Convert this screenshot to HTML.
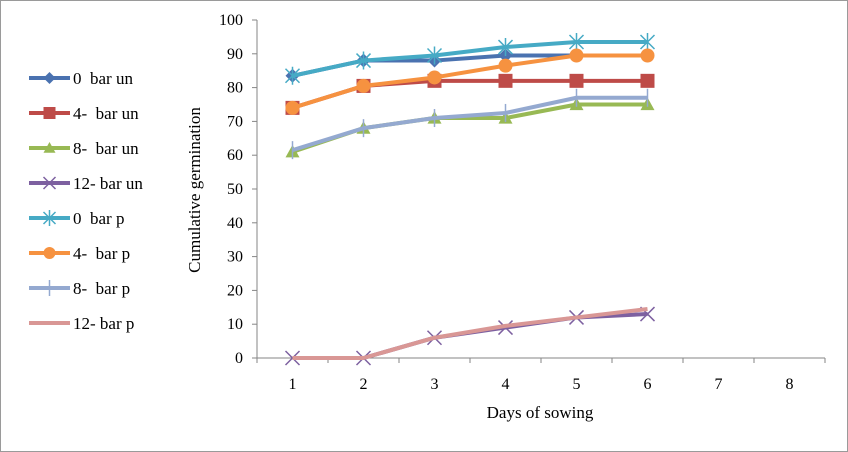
<!DOCTYPE html>
<html><head><meta charset="utf-8"><style>
html,body{margin:0;padding:0;background:#fff}
svg{display:block;font-family:"Liberation Serif",serif}
</style></head><body>
<svg id="chart" width="848" height="452">
<rect x="0.5" y="0.5" width="847" height="451" fill="#fff" stroke="#9a9a9a"/>
<g id="axes"></g><g id="series"></g><g id="legend"></g>
<text x="540" y="418" font-size="17" text-anchor="middle">Days of sowing</text>
<text transform="translate(200,190) rotate(-90)" font-size="17" text-anchor="middle">Cumulative  germination</text>
</svg>
<script>
const categories=[1,2,3,4,5,6,7,8];
const yTicks=[0,10,20,30,40,50,60,70,80,90,100];
const seriesNames=["0  bar un","4-  bar un","8-  bar un","12- bar un","0  bar p","4-  bar p","8-  bar p","12- bar p"];
const s0un=[83.5,88,88,89.5,89.5,89.5];
const s4un=[74,80.5,82,82,82,82];
const s8un=[61,68,71,71,75,75];
const s12un=[0,0,6,9,12,13];
const s0p=[83.5,88,89.5,92,93.5,93.5];
const s4p=[74,80.5,83,86.5,89.5,89.5];
const s8p=[61.5,68,71,72.5,77,77];
const s12p=[0,0,6,9.5,12,14.5];
const seriesData=[s0un,s4un,s8un,s12un,s0p,s4p,s8p,s12p];
const colors=["#4a72b0","#be4b48","#98b954","#7d60a0","#46aac5","#f69240","#94a9d0","#d99795"];
const markers=["diamond","square","triangle","x","star","circle","plus","none"];
const NS="http://www.w3.org/2000/svg";
const X0=257,X1=825,Y0=358,Y1=20;
const bw=(X1-X0)/categories.length;
function xs(i){return X0+bw*(i+0.5);}
function ys(v){return Y0-(v/100)*(Y0-Y1);}
function mk(t,a,p){const e=document.createElementNS(NS,t);for(const k in a)e.setAttribute(k,a[k]);p.appendChild(e);return e;}
const axes=document.getElementById('axes');
const ya=mk('line',{x1:X0,y1:Y1,x2:X0,y2:Y0,stroke:'#868686'},axes);


const xa=mk('line',{x1:X0,y1:Y0,x2:X1,y2:Y0,stroke:'#868686'},axes);


yTicks.forEach(v=>{
  mk('line',{x1:X0-5,y1:ys(v),x2:X0,y2:ys(v),stroke:'#868686'},axes);
  const t=mk('text',{x:X0-14,y:ys(v)+5,'font-size':16,'text-anchor':'end'},axes);
  t.textContent=v;
  
  
});
for(let i=0;i<=categories.length;i++)mk('line',{x1:X0+bw*i,y1:Y0,x2:X0+bw*i,y2:Y0+5,stroke:'#868686'},axes);
categories.forEach((c,i)=>{
  const t=mk('text',{x:xs(i),y:Y0+31,'font-size':16,'text-anchor':'middle'},axes);
  t.textContent=c;
  
  
});
function marker(g,type,x,y,c,s){
  if(type==='diamond')mk('path',{d:`M${x},${y-s}L${x+s},${y}L${x},${y+s}L${x-s},${y}Z`,fill:c},g);
  else if(type==='square')mk('rect',{x:x-s,y:y-s,width:2*s,height:2*s,fill:c},g);
  else if(type==='triangle')mk('path',{d:`M${x},${y-s}L${x+s},${y+s*0.8}L${x-s},${y+s*0.8}Z`,fill:c},g);
  else if(type==='circle')mk('circle',{cx:x,cy:y,r:s,fill:c},g);
  else if(type==='x')mk('path',{d:`M${x-s},${y-s}L${x+s},${y+s}M${x-s},${y+s}L${x+s},${y-s}`,stroke:c,'stroke-width':1.5},g);
  else if(type==='plus')mk('path',{d:`M${x},${y-s-2}L${x},${y+s+2}`,stroke:c,'stroke-width':1.5},g);
  else if(type==='star')mk('path',{d:`M${x-s},${y-s}L${x+s},${y+s}M${x-s},${y+s}L${x+s},${y-s}M${x},${y-s-2}L${x},${y+s+2}`,stroke:c,'stroke-width':1.5},g);
}
const sg=document.getElementById('series');
seriesData.forEach((d,si)=>{
  const g=mk('g',{},sg);
  
  
  mk('polyline',{points:d.map((v,i)=>xs(i)+','+ys(v)).join(' '),fill:'none',stroke:colors[si],'stroke-width':4,'stroke-linejoin':'round'},g);
  d.forEach((v,i)=>marker(g,markers[si],xs(i),ys(v),colors[si],7));
});
const lg=document.getElementById('legend');
seriesNames.forEach((n,i)=>{
  const y=78+i*35;
  const g=mk('g',{},lg);
  
  
  mk('line',{x1:29,y1:y,x2:70,y2:y,stroke:colors[i],'stroke-width':4},g);
  marker(g,markers[i],49.5,y,colors[i],6);
  const t=mk('text',{x:73,y:y+6,'font-size':17},g);
  t.textContent=n;
  t.setAttribute('xml:space','preserve');
  t.style.whiteSpace='pre';
});
</script>
</body></html>
